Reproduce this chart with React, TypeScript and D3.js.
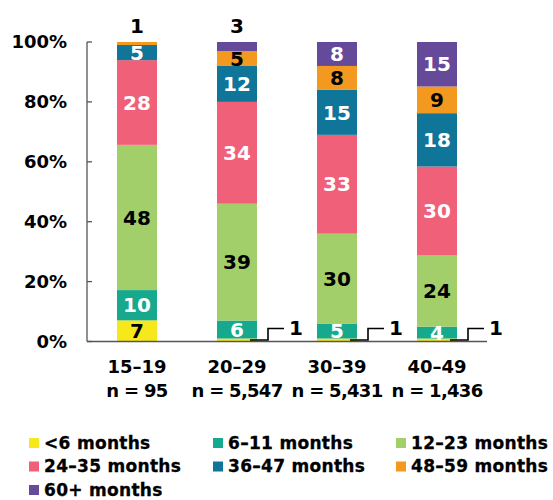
import * as d3 from "d3";
import React from "react";

// chart data
const groups = ["15–19", "20–29", "30–39", "40–49"];
const groupN = ["n = 95", "n = 5,547", "n = 5,431", "n = 1,436"];
const seriesNames = [
  "<6 months",
  "6–11 months",
  "12–23 months",
  "24–35 months",
  "36–47 months",
  "48–59 months",
  "60+ months",
];
const seriesColors = ["#f7e81b", "#17a98e", "#a3cf6a", "#f06079", "#0f7599", "#f3991f", "#654a9a"];
const labelColors = ["#000", "#fff", "#000", "#fff", "#fff", "#000", "#fff"];
// values per series, one per group
const lt6 = [7, 1, 1, 1];
const m6to11 = [10, 6, 5, 4];
const m12to23 = [48, 39, 30, 24];
const m24to35 = [28, 34, 33, 30];
const m36to47 = [5, 12, 15, 18];
const m48to59 = [1, 5, 8, 9];
const m60plus = [0, 3, 8, 15];
const yTicks = [0, 0.2, 0.4, 0.6, 0.8, 1];

const seriesValues = [lt6, m6to11, m12to23, m24to35, m36to47, m48to59, m60plus];

const FONT = "'DejaVu Sans', sans-serif";

export default function App() {
  const width = 553;
  const height = 500;

  const rows = groups.map((g, i) => {
    const r: Record<string, number | string> = { group: g };
    seriesNames.forEach((s, j) => (r[s] = seriesValues[j][i]));
    return r;
  });

  const stack = d3
    .stack<Record<string, number | string>>()
    .keys(seriesNames)
    .value((d, k) => d[k] as number)
    .offset(d3.stackOffsetExpand);
  const layers = stack(rows);

  const x = d3.scaleBand().domain(groups).range([87, 487]).paddingInner(0.6).paddingOuter(0.3);
  const y = d3.scaleLinear().domain([0, 1]).range([341.5, 42]);
  const bw = x.bandwidth();

  const segs: React.ReactNode[] = [];
  const labels: React.ReactNode[] = [];

  layers.forEach((layer, j) => {
    layer.forEach((d, i) => {
      const v = seriesValues[j][i];
      if (v === 0) return;
      const x0 = x(groups[i]) as number;
      const cx = x0 + bw / 2;
      const yTop = y(d[1]);
      const yBot = y(d[0]);
      segs.push(
        <rect key={`r${j}-${i}`} x={x0} y={yTop} width={bw} height={yBot - yTop} fill={seriesColors[j]} />
      );
      const h = yBot - yTop;
      if (h >= 11) {
        labels.push(
          <text key={`t${j}-${i}`} x={cx} y={(yTop + yBot) / 2} dy="0.36em" textAnchor="middle"
            fontSize={20} fontWeight="bold" fill={labelColors[j]}>{v}</text>
        );
      } else if (j === 0) {
        // callout for small bottom segment
        const ym = (yTop + yBot) / 2;
        labels.push(
          <g key={`c${j}-${i}`}>
            <polyline
              points={`${cx + 13},${ym} ${cx + 31},${ym} ${cx + 31},${ym - 11.5} ${cx + 47},${ym - 11.5}`}
              fill="none" stroke="#000" strokeWidth={1.6} />
            <text x={cx + 59} y={ym - 5} textAnchor="middle" fontSize={20} fontWeight="bold" fill="#000">{v}</text>
          </g>
        );
      } else {
        labels.push(
          <text key={`t${j}-${i}`} x={cx} y={33} textAnchor="middle" fontSize={20} fontWeight="bold" fill="#000">{v}</text>
        );
      }
    });
  });

  return (
    <svg width={width} height={height} style={{ position: "absolute", left: 0, top: 0, fontFamily: FONT }}>
      <rect width={width} height={height} fill="#fff" />
      {segs}
      {/* y axis */}
      <line x1={87} x2={87} y1={y(1)} y2={y(0)} stroke="#555" strokeWidth={1.3} />
      <line x1={87} x2={487} y1={y(0)} y2={y(0)} stroke="#555" strokeWidth={1.3} />
      {yTicks.map((t) => (
        <g key={t}>
          <line x1={87} x2={92} y1={y(t)} y2={y(t)} stroke="#555" strokeWidth={1.3} />
          <text x={67} y={y(t)} dy="0.36em" textAnchor="end" fontSize={18} fontWeight="bold" fill="#000">
            {d3.format(".0%")(t)}
          </text>
        </g>
      ))}
      {labels}
      {/* x labels */}
      {groups.map((g, i) => {
        const cx = (x(g) as number) + bw / 2;
        return (
          <g key={g}>
            <text x={cx} y={373} textAnchor="middle" fontSize={18} fontWeight="bold" fill="#000">{g}</text>
            <text x={cx} y={397} textAnchor="middle" fontSize={18} fontWeight="bold" fill="#000"
              letterSpacing={-0.7}>{groupN[i]}</text>
          </g>
        );
      })}
      {/* legend */}
      {seriesNames.map((s, j) => {
        const col = j % 3;
        const row = Math.floor(j / 3);
        const lx = [29, 213, 396][col];
        const ly = 438 + row * 23.5;
        return (
          <g key={s}>
            <rect x={lx} y={ly} width={10} height={10} fill={seriesColors[j]} />
            <text x={lx + 15} y={ly + 10.5} fontSize={17} fontWeight="bold" fill="#000"
              stroke="#000" strokeWidth={0.3} letterSpacing={0.3}>{s}</text>
          </g>
        );
      })}
    </svg>
  );
}
